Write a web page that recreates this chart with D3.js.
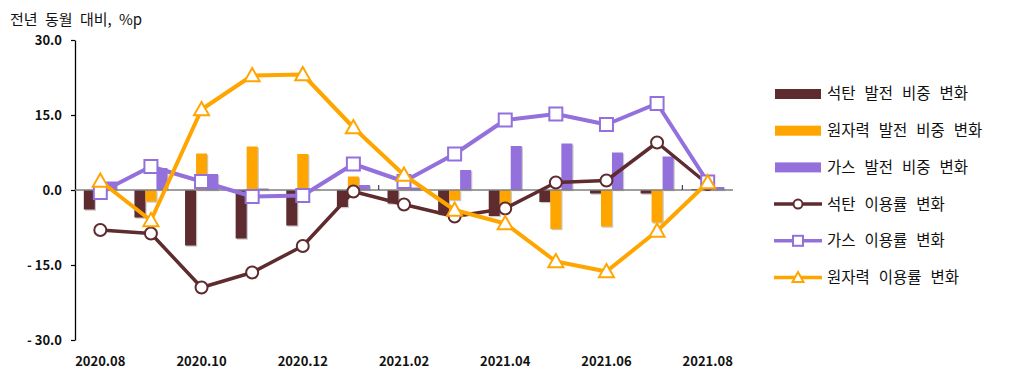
<!DOCTYPE html>
<html>
<head>
<meta charset="utf-8">
<script src="https://cdn.jsdelivr.net/npm/d3@7"></script>
<style>
  body { margin: 0; background: #fff; }
  text { font-family: "Noto Sans CJK KR", "Noto Sans", sans-serif; }
</style>
</head>
<body>
<div id="chart"></div>
<script>
// months on the x axis
var months = ["2020.08", "2020.09", "2020.10", "2020.11", "2020.12", "2021.01", "2021.02",
  "2021.03", "2021.04", "2021.05", "2021.06", "2021.07", "2021.08"];
var labelMonths = ["2020.08", "2020.10", "2020.12", "2021.02", "2021.04", "2021.06", "2021.08"];
var yTicks = [-30, -15, 0, 15, 30];

// bar series (share change, %p)
var coalShare = [-3.9, -5.5, -11.1, -9.7, -7.1, -3.4, -2.7, -4.9, -5.2, -2.4, -0.7, -0.7, 0.2];
var nuclearShare = [-0.3, -2.3, 7.3, 8.7, 7.2, 2.7, 0.4, -2.0, -3.2, -7.8, -7.3, -6.5, 0.1];
var gasShare = [1.7, 4.4, 3.2, 0.3, 0.1, 1.0, 0.5, 4.0, 8.8, 9.3, 7.5, 6.7, 0.6];

// line series (utilization change, %p)
var coalUtil = [-8.0, -8.7, -19.5, -16.5, -11.2, -0.3, -2.9, -5.3, -3.7, 1.5, 1.9, 9.5, 1.2];
var gasUtil = [-0.5, 4.7, 1.7, -1.3, -1.1, 5.2, 1.7, 7.2, 14.0, 15.2, 13.1, 17.3, 1.6];
var nuclearUtil = [1.8, -6.1, 16.1, 22.9, 23.1, 12.5, 3.0, -4.0, -6.7, -14.3, -16.3, -8.2, 1.5];

var barSeries = [
  { name: "석탄 발전 비중 변화", values: coalShare, color: "#5E2B2E" },
  { name: "원자력 발전 비중 변화", values: nuclearShare, color: "#FFA500" },
  { name: "가스 발전 비중 변화", values: gasShare, color: "#9370DB" }
];
var lineSeries = [
  { name: "석탄 이용률 변화", values: coalUtil, color: "#5E2B2E", marker: "circle" },
  { name: "가스 이용률 변화", values: gasUtil, color: "#9370DB", marker: "square" },
  { name: "원자력 이용률 변화", values: nuclearUtil, color: "#FFA500", marker: "triangle" }
];

var W = 1021, H = 375;
var svg = d3.select("#chart").append("svg").attr("width", W).attr("height", H);

var x = d3.scaleBand().domain(months).range([75, 733]);
var y = d3.scaleLinear().domain([-30, 30]).range([340, 40]);
var sub = d3.scaleBand().domain(barSeries.map(function (d) { return d.name; })).range([0, 33]);
var cx = function (m) { return x(m) + x.bandwidth() / 2; };

// title
svg.append("text").attr("x", 10).attr("y", 25).attr("font-size", 15).attr("fill", "#111")
  .style("word-spacing", "4px")
  .text("전년 동월 대비, %p");

// y axis
var yAxis = d3.axisLeft(y).tickValues(yTicks).tickSizeInner(4).tickSizeOuter(0).tickPadding(9)
  .tickFormat(function (d) { return d < 0 ? "- " + d3.format(".1f")(-d) : d3.format(".1f")(d); });
var gy = svg.append("g").attr("transform", "translate(75,0)").call(yAxis);
gy.select(".domain").attr("stroke", "#000").attr("stroke-width", 1.3);
gy.selectAll(".tick line").attr("stroke", "#000").attr("stroke-width", 1.2);
gy.selectAll(".tick text").attr("font-size", 13).attr("font-weight", "bold").attr("fill", "#111")
  .style("font-family", "'Noto Sans CJK KR', sans-serif");

// x labels
var xAxis = d3.axisBottom(x).tickValues(labelMonths).tickSize(0).tickPadding(17);
var gx = svg.append("g").attr("transform", "translate(0,340)").call(xAxis);
gx.select(".domain").remove();
gx.selectAll(".tick text").attr("font-size", 13).attr("font-weight", "bold").attr("fill", "#111")
  .style("font-family", "'Noto Sans CJK KR', sans-serif");

// bars with light shadow
barSeries.forEach(function (s) {
  var g = svg.append("g");
  g.selectAll("rect.shadow").data(s.values).enter().append("rect")
    .attr("class", "shadow")
    .attr("x", function (d, i) { return cx(months[i]) - 16.5 + sub(s.name) + 1.2; })
    .attr("y", function (d) { return Math.min(y(d), y(0)) + 1.2; })
    .attr("width", sub.bandwidth())
    .attr("height", function (d) { return Math.abs(y(d) - y(0)); })
    .attr("fill", "#c8c8c8");
  g.selectAll("rect.bar").data(s.values).enter().append("rect")
    .attr("class", "bar")
    .attr("x", function (d, i) { return cx(months[i]) - 16.5 + sub(s.name); })
    .attr("y", function (d) { return Math.min(y(d), y(0)); })
    .attr("width", sub.bandwidth())
    .attr("height", function (d) { return Math.abs(y(d) - y(0)); })
    .attr("fill", s.color);
});

// zero line with interval ticks
svg.append("line").attr("x1", x.range()[0]).attr("x2", x.range()[1])
  .attr("y1", y(0)).attr("y2", y(0)).attr("stroke", "#7f7f7f").attr("stroke-width", 1.5);
[months[6], months[12]].forEach(function (m) {
  svg.append("line").attr("x1", x(m)).attr("x2", x(m)).attr("y1", y(0)).attr("y2", y(0) - 5)
    .attr("stroke", "#444").attr("stroke-width", 1.2);
});

function drawMarker(g, type, color, px, py) {
  if (type === "circle") {
    g.append("circle").attr("cx", px).attr("cy", py).attr("r", 6)
      .attr("fill", "#fff").attr("stroke", color).attr("stroke-width", 2);
  } else if (type === "square") {
    g.append("rect").attr("x", px - 6.5).attr("y", py - 6.5).attr("width", 13).attr("height", 13)
      .attr("fill", "#fff").attr("stroke", color).attr("stroke-width", 2);
  } else {
    var s = 7.5;
    g.append("path").attr("d", "M" + px + "," + (py - s) + "L" + (px + s) + "," + (py + s * 0.75) +
      "L" + (px - s) + "," + (py + s * 0.75) + "Z")
      .attr("fill", "#fff").attr("stroke", color).attr("stroke-width", 2).attr("stroke-linejoin", "miter");
  }
}

// lines
var line = d3.line().x(function (d, i) { return cx(months[i]); }).y(function (d) { return y(d); });
lineSeries.forEach(function (s) {
  var g = svg.append("g");
  g.append("path").datum(s.values).attr("d", line).attr("fill", "none")
    .attr("stroke", s.color).attr("stroke-width", s.marker === "circle" ? 3.5 : 4)
    .attr("stroke-linejoin", "round");
  s.values.forEach(function (d, i) { drawMarker(g, s.marker, s.color, cx(months[i]), y(d)); });
});

// legend
var leg = svg.append("g");
var rowY = function (i) { return 94 + i * 36.7; };
barSeries.forEach(function (s, i) {
  leg.append("rect").attr("x", 775).attr("y", rowY(i) - 5).attr("width", 46).attr("height", 10)
    .attr("fill", s.color);
  leg.append("text").attr("x", 827).attr("y", rowY(i)).attr("dy", "0.35em")
    .attr("font-size", 15.5).attr("fill", "#111").style("word-spacing", "5.5px").text(s.name);
});
lineSeries.forEach(function (s, j) {
  var i = j + 3;
  leg.append("line").attr("x1", 774).attr("x2", 822).attr("y1", rowY(i)).attr("y2", rowY(i))
    .attr("stroke", s.color).attr("stroke-width", 3.5);
  var mg = leg.append("g");
  if (s.marker === "circle") {
    mg.append("circle").attr("cx", 798).attr("cy", rowY(i)).attr("r", 4.5)
      .attr("fill", "#fff").attr("stroke", s.color).attr("stroke-width", 2);
  } else if (s.marker === "square") {
    mg.append("rect").attr("x", 793).attr("y", rowY(i) - 5).attr("width", 10).attr("height", 10)
      .attr("fill", "#fff").attr("stroke", s.color).attr("stroke-width", 2);
  } else {
    mg.append("path").attr("d", "M798," + (rowY(i) - 5.5) + "L803.5," + (rowY(i) + 4.5) + "L792.5," + (rowY(i) + 4.5) + "Z")
      .attr("fill", "#fff").attr("stroke", s.color).attr("stroke-width", 2);
  }
  leg.append("text").attr("x", 827).attr("y", rowY(i)).attr("dy", "0.35em")
    .attr("font-size", 15.5).attr("fill", "#111").style("word-spacing", "5.5px").text(s.name);
});
</script>
</body>
</html>
